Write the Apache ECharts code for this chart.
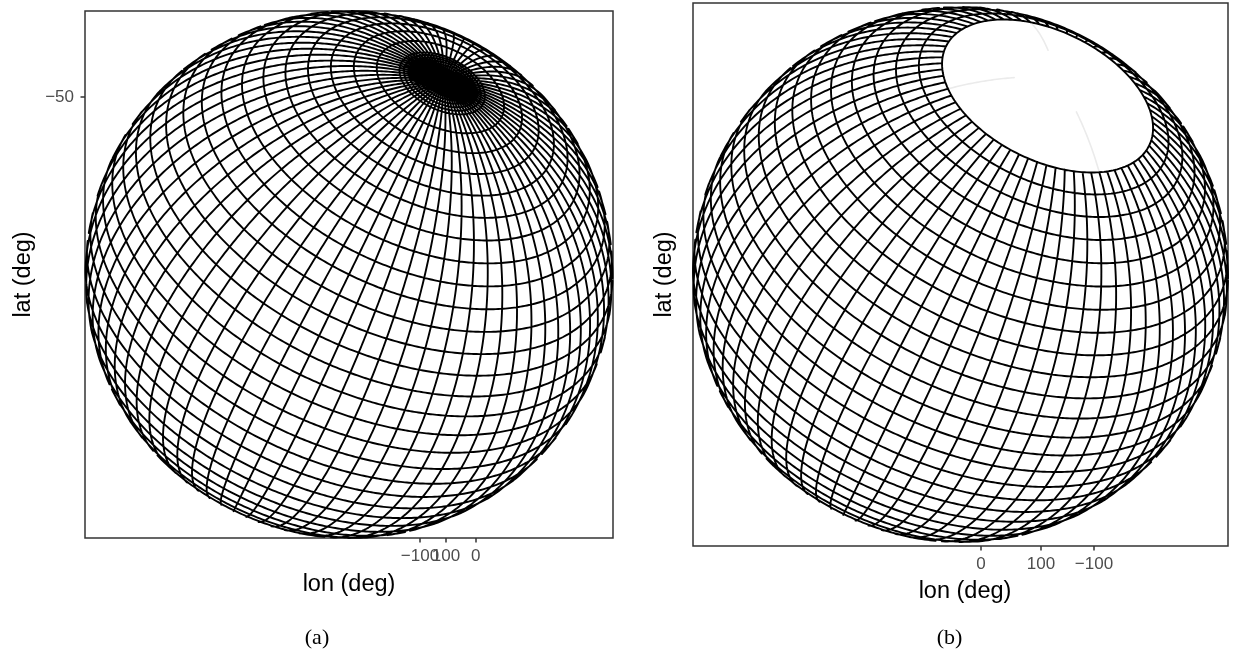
<!DOCTYPE html>
<html><head><meta charset="utf-8">
<style>html,body{margin:0;padding:0;background:#fff}#c{width:1238px;height:651px}</style>
<script src="https://cdn.jsdelivr.net/npm/echarts@6/dist/echarts.min.js"></script>
</head><body><div id="c"></div>
<script>
// Graticule values (degrees)
const meridians = [-180,-175,-170,-165,-160,-155,-150,-145,-140,-135,-130,-125,-120,-115,-110,-105,-100,-95,-90,-85,-80,-75,-70,-65,-60,-55,-50,-45,-40,-35,-30,-25,-20,-15,-10,-5,0,5,10,15,20,25,30,35,40,45,50,55,60,65,70,75,80,85,90,95,100,105,110,115,120,125,130,135,140,145,150,155,160,165,170,175];
const parallelsA = [-89,-88,-87,-86,-85,-84,-83,-82,-81,-80,-75,-70,-65,-60,-55,-50,-45,-40,-35,-30,-25,-20,-15,-10,-5,0,5,10,15,20,25,30,35,40,45,50,55,60];
const parallelsB = [-65,-60,-55,-50,-45,-40,-35,-30,-25,-20,-15,-10,-5,0,5,10,15,20,25,30,35,40,45,50,55,60];
const gridMeridians = [0,100,-100];
const gridLatRange = [-80,-65];
const lonLabelsA = ['\u2212100','100','0'];
const lonLabelsB = ['0','100','\u2212100'];
const latLabels = ['\u221250'];
// Tick places on the projected axes (unit-sphere coordinates)
const lonTickAtA = [0.2695,0.368,0.481];
const lonTickAtB = [0.0766,0.301,0.499];
const latTickAtA = [0.6736];
// Orthographic view
const viewA = {tilt:55, spin:26, phase:-125};
const viewB = {tilt:55, spin:26, phase:-125};

const rad = Math.PI/180, step = 0.25;
function project(lon,lat,v){
  const rho=(lat+90)*rad, phi=(lon+v.phase)*rad, th=v.tilt*rad, al=v.spin*rad;
  const w=Math.cos(rho)*Math.cos(th)-Math.sin(rho)*Math.cos(phi)*Math.sin(th);
  if(w<0) return [null,null];
  const a=Math.cos(rho)*Math.sin(th)+Math.sin(rho)*Math.cos(phi)*Math.cos(th);
  const b=Math.sin(rho)*Math.sin(phi);
  return [a*Math.sin(al)+b*Math.cos(al), a*Math.cos(al)-b*Math.sin(al)];
}
function pushLine(out,fn,from,to){
  let wasNull=true;
  for(let t=from;t<=to;t+=step){
    const p=fn(t);
    if(p[0]===null){ if(!wasNull) out.push([null,null]); wasNull=true; }
    else { out.push(p); wasNull=false; }
  }
  if(!wasNull) out.push([null,null]);
}
function graticule(pars,latMin,v){
  const pts=[];
  meridians.forEach(m=>pushLine(pts,lat=>project(m,lat,v),latMin,89));
  pars.forEach(p=>pushLine(pts,lon=>project(lon,p,v),-180,180));
  return pts;
}
function gridLines(v){
  const pts=[];
  gridMeridians.forEach(m=>pushLine(pts,lat=>project(m,lat,v),gridLatRange[0],gridLatRange[1]));
  return pts;
}
function lineSeries(i,data,color,width){
  return {type:'line',xAxisIndex:i,yAxisIndex:i,data,showSymbol:false,symbol:'none',silent:true,animation:false,
    connectNulls:false,clip:true,lineStyle:{color,width,cap:'round',join:'round'}};
}
const greyTick='#333333', greyLab='#4d4d4d';
function tickFmt(ticks,labels){return val=>{const k=ticks.indexOf(val);return k>=0?labels[k]:'';};}
function xAxis(i,half,ticks,labels,gap,pad){
  return {type:'value',gridIndex:i,min:-half,max:half,splitLine:{show:false},
    axisLine:{show:false,onZero:false},
    axisTick:{show:true,length:4.5,lineStyle:{color:greyTick,width:1.5},customValues:ticks},
    // blank labels at both axis ends keep the overlapping tick labels from being dropped
    axisLabel:{show:true,color:greyLab,fontSize:17,fontFamily:'Liberation Sans',margin:10,hideOverlap:false,
      customValues:[-half].concat(ticks,[half]),formatter:tickFmt(ticks,labels)},
    name:'lon (deg)',nameLocation:'middle',nameGap:gap,
    nameTextStyle:{color:'#000',fontSize:23.5,fontFamily:'Liberation Sans',padding:[0,0,0,pad]}};
}
function yAxis(i,half,ticks,labels,gap){
  return {type:'value',gridIndex:i,min:-half,max:half,splitLine:{show:false},
    axisLine:{show:false,onZero:false},
    axisTick:{show:ticks.length>0,length:4.5,lineStyle:{color:greyTick,width:1.5},customValues:ticks},
    axisLabel:{show:ticks.length>0,color:greyLab,fontSize:17,fontFamily:'Liberation Sans',margin:11,showMinLabel:true,showMaxLabel:true,
      customValues:ticks,formatter:tickFmt(ticks,labels)},
    name:'lat (deg)',nameLocation:'middle',nameGap:gap,
    nameTextStyle:{color:'#000',fontSize:23.5,fontFamily:'Liberation Sans'}};
}
const chart=echarts.init(document.getElementById('c'),null,{renderer:'canvas'});
const borderA={left:85,top:11,width:528,height:527}, borderB={left:693,top:3,width:535,height:543};
const RA=263.5, RB=267.5;
chart.setOption({
  backgroundColor:'#fff',animation:false,
  grid:[
    Object.assign({show:true,borderColor:'#333333',borderWidth:1.5,backgroundColor:'transparent',containLabel:false},borderA),
    Object.assign({show:true,borderColor:'#333333',borderWidth:1.5,backgroundColor:'transparent',containLabel:false},borderB)
  ],
  xAxis:[xAxis(0,borderA.width/2/RA,lonTickAtA,lonLabelsA,35,0),xAxis(1,borderB.width/2/RB,lonTickAtB,lonLabelsB,34,9)],
  yAxis:[yAxis(0,borderA.height/2/RA,latTickAtA,latLabels,49),yAxis(1,borderB.height/2/RB,[],[],16)],
  series:[
    lineSeries(1,gridLines(viewB),'#ebebeb',1.6),
    lineSeries(0,graticule(parallelsA,-90,viewA),'#000',1.9),
    lineSeries(1,graticule(parallelsB,-65,viewB),'#000',1.9)
  ],
  graphic:[
    {type:'text',x:317,y:638,style:{text:'(a)',font:'22px "Liberation Serif"',fill:'#000',textAlign:'center',textVerticalAlign:'middle'}},
    {type:'text',x:949.5,y:638,style:{text:'(b)',font:'22px "Liberation Serif"',fill:'#000',textAlign:'center',textVerticalAlign:'middle'}}
  ]
});
</script></body></html>
